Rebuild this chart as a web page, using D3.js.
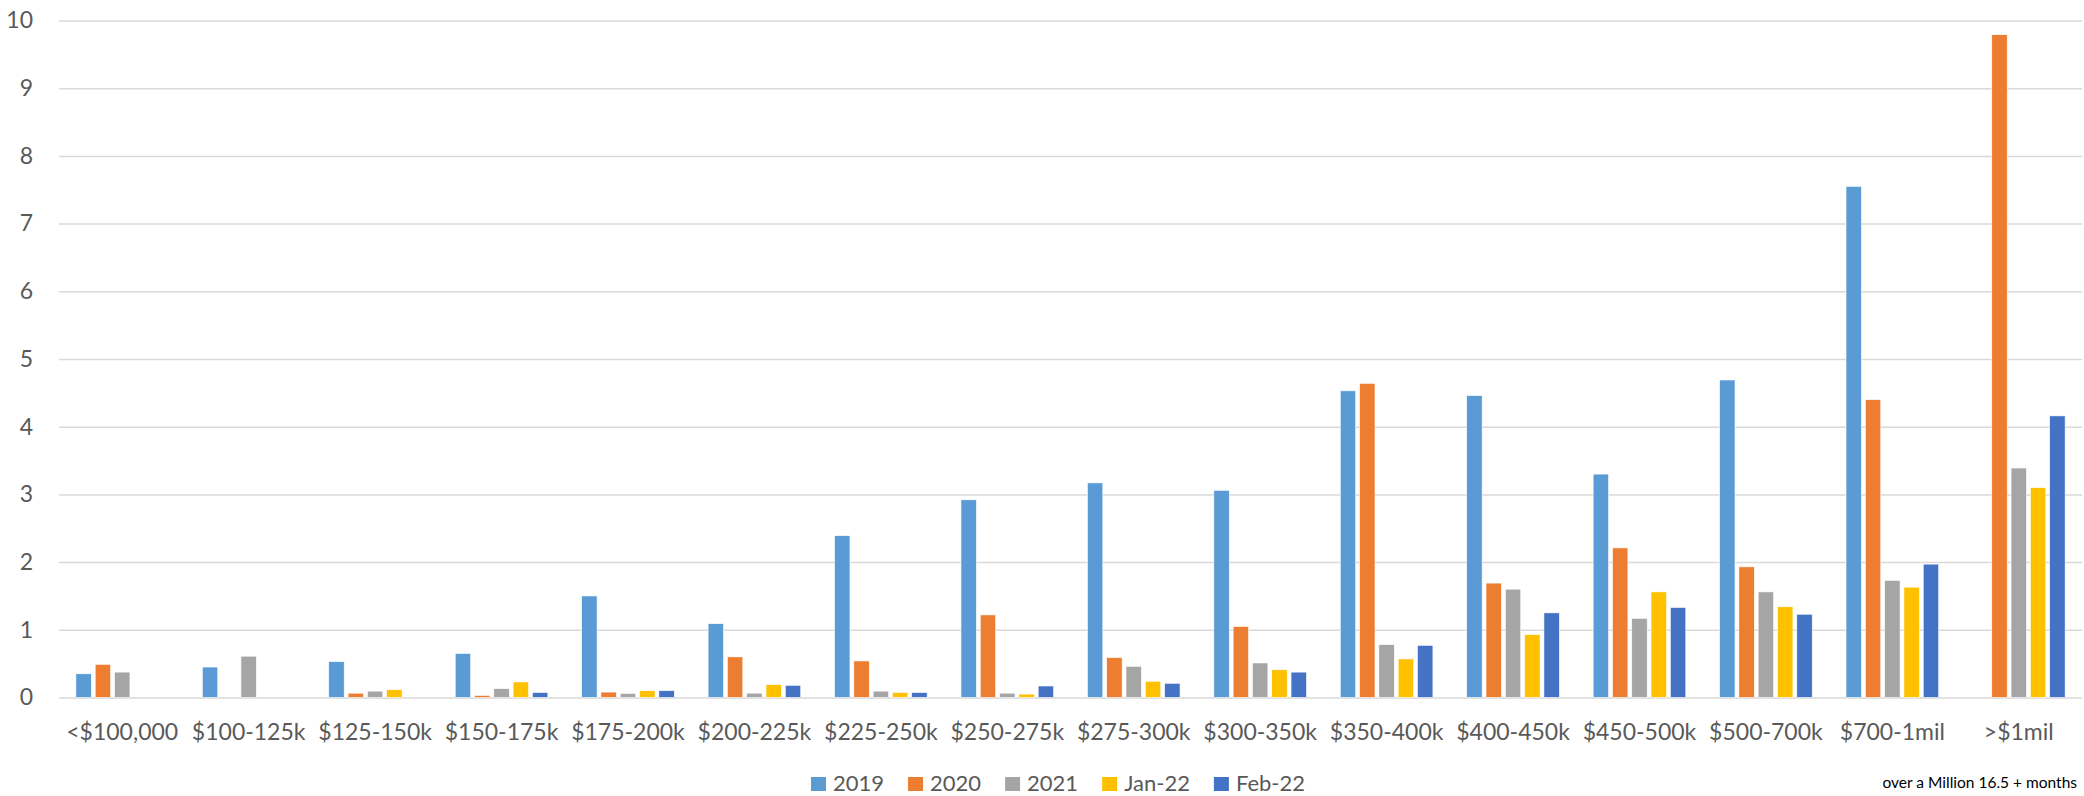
<!DOCTYPE html>
<html>
<head>
<meta charset="utf-8">
<script src="https://cdn.jsdelivr.net/npm/d3@7"></script>
<style>
  body { margin: 0; background: #fff; }
  svg { display: block; font-family: Lato, "Open Sans", sans-serif; }
</style>
</head>
<body>
<svg id="chart"></svg>
<script>
const categories = ["<$100,000", "$100-125k", "$125-150k", "$150-175k", "$175-200k", "$200-225k",
  "$225-250k", "$250-275k", "$275-300k", "$300-350k", "$350-400k", "$400-450k",
  "$450-500k", "$500-700k", "$700-1mil", ">$1mil"];

const seriesNames = ["2019", "2020", "2021", "Jan-22", "Feb-22"];
const seriesColors = ["#5B9BD5", "#ED7D31", "#A5A5A5", "#FFC000", "#4472C4"];

const v2019 = [0.35, 0.45, 0.53, 0.65, 1.50, 1.09, 2.39, 2.92, 3.17, 3.06, 4.53, 4.46, 3.30, 4.69, 7.55, null];
const v2020 = [0.49, null, 0.064, 0.03, 0.08, 0.60, 0.54, 1.22, 0.59, 1.05, 4.64, 1.69, 2.21, 1.93, 4.40, 9.79];
const v2021 = [0.375, 0.61, 0.094, 0.13, 0.06, 0.064, 0.094, 0.064, 0.46, 0.51, 0.78, 1.60, 1.17, 1.56, 1.73, 3.39];
const vJan22 = [null, null, 0.114, 0.23, 0.10, 0.19, 0.074, 0.05, 0.24, 0.41, 0.57, 0.93, 1.56, 1.34, 1.63, 3.10];
const vFeb22 = [null, null, null, 0.074, 0.10, 0.18, 0.074, 0.17, 0.21, 0.375, 0.77, 1.25, 1.33, 1.23, 1.97, 4.16];

const yTicks = [0, 1, 2, 3, 4, 5, 6, 7, 8, 9, 10];
const footNote = "over a Million 16.5 + months";

const seriesValues = [v2019, v2020, v2021, vJan22, vFeb22];

const width = 2084;
const height = 796;
const textColor = '#595959';

const svg = d3.select('#chart')
  .attr('width', width)
  .attr('height', height);

svg.append('rect').attr('width', width).attr('height', height).attr('fill', '#fff');

const x0 = d3.scaleBand()
  .domain(categories)
  .range([59, 2082]);

const x1 = d3.scaleBand()
  .domain(seriesNames)
  .range([0, x0.bandwidth()])
  .paddingInner(0.2)
  .paddingOuter(0.875);

const y = d3.scaleLinear()
  .domain([0, 10])
  .range([697.5, 20.5]);

// gridlines
const grid = svg.append('g')
  .attr('transform', 'translate(59,0)')
  .call(d3.axisLeft(y).tickValues(yTicks).tickSize(-(2082 - 59)).tickFormat(''));
grid.select('path.domain').remove();
grid.selectAll('line').attr('stroke', '#D9D9D9').attr('stroke-width', 1.5);

// y labels
const yAxis = svg.append('g')
  .attr('transform', 'translate(33,0)')
  .call(d3.axisLeft(y).tickValues(yTicks).tickSize(0).tickPadding(0).tickFormat(d3.format('d')));
yAxis.select('path.domain').remove();
yAxis.selectAll('text')
  .attr('fill', textColor)
  .style('font-size', '23px')
  .style('font-family', 'Lato, "Open Sans", sans-serif');

// bars
const rows = [];
categories.forEach((c, i) => {
  seriesNames.forEach((s, j) => {
    const v = seriesValues[j][i];
    if (v != null) rows.push({ cat: c, series: s, value: v, color: seriesColors[j] });
  });
});

svg.append('g').selectAll('rect.bar')
  .data(rows)
  .enter()
  .append('rect')
  .attr('class', 'bar')
  .attr('x', d => x0(d.cat) + x1(d.series))
  .attr('width', x1.bandwidth())
  .attr('y', d => y(d.value))
  .attr('height', d => y(0) - y(d.value))
  .attr('fill', d => d.color)
  .attr('stroke', '#fff')
  .attr('stroke-width', 0.6);

// category labels
const xAxis = svg.append('g')
  .attr('transform', 'translate(0,712)')
  .call(d3.axisBottom(x0).tickSize(0).tickPadding(0));
xAxis.select('path.domain').remove();
xAxis.selectAll('text')
  .attr('fill', textColor)
  .attr('dy', '1.2em')
  .style('font-size', '23px')
  .style('font-family', 'Lato, "Open Sans", sans-serif');

// legend
const legend = svg.append('g').attr('transform', 'translate(811,0)');
let lx = 0;
seriesNames.forEach((s, j) => {
  const item = legend.append('g').attr('transform', `translate(${lx},0)`);
  item.append('rect')
    .attr('x', 0).attr('y', 777)
    .attr('width', 15).attr('height', 14)
    .attr('fill', seriesColors[j]);
  const t = item.append('text')
    .attr('x', 22).attr('y', 791)
    .attr('fill', textColor)
    .style('font-size', '22px')
    .text(s);
  lx += 22 + t.node().getComputedTextLength() + 24;
});

svg.append('text')
  .attr('x', 2077)
  .attr('y', 788)
  .attr('text-anchor', 'end')
  .attr('fill', '#000')
  .style('font-size', '15.5px')
  .text(footNote);
</script>
</body>
</html>
